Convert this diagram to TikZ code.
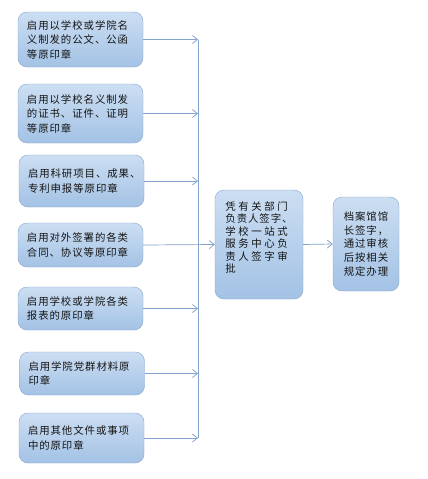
\documentclass[tikz,border=0pt]{standalone}
\usepackage{fontspec}
\newfontfamily\cjk[LetterSpace=9]{Noto Sans CJK SC}
\newfontfamily\cjkmid[LetterSpace=25]{Noto Sans CJK SC}
\usetikzlibrary{arrows.meta}
\definecolor{boxtop}{HTML}{CCDEF2}
\definecolor{boxbot}{HTML}{A3C2E5}
\definecolor{boxline}{HTML}{86A6CF}
\definecolor{flow}{HTML}{82A3CC}
\definecolor{ink}{HTML}{141414}
\tikzset{
  stepbox/.style={rectangle, rounded corners=9pt, draw=boxline, thin,
    top color=boxtop, bottom color=boxbot, text=ink, align=left,
    font=\cjk\fontsize{10.4}{14.5}\selectfont},
  leftbox/.style={stepbox, text width=107pt, inner xsep=9pt},
  flowline/.style={flow, line width=0.7pt},
  flowarrow/.style={flowline, -{Straight Barb[length=5pt,width=8pt]}}
}
\begin{document}
\begin{tikzpicture}[x=1pt,y=-1pt]
        \useasboundingbox[fill=white] (0,0) rectangle (428,479);

        % Left column: the kinds of seal use
        \node[leftbox, minimum height=55pt] (seal1) at (80.5,39.5) {启用以学校或学院名\\义制发的公文、公函\\等原印章};
        \node[leftbox, minimum height=59pt] (seal2) at (80.5,113.5) {启用以学校名义制发\\的证书、证件、证明\\等原印章};
        \node[leftbox, minimum height=52pt] (seal3) at (81.5,181) {启用科研项目、成果、\\专利申报等原印章};
        \node[leftbox, minimum height=44pt] (seal4) at (80.5,245) {启用对外签署的各类\\合同、协议等原印章};
        \node[leftbox, minimum height=43pt] (seal5) at (80.5,308.5) {启用学校或学院各类\\报表的原印章};
        \node[leftbox, minimum height=43pt] (seal6) at (82,373.5) {启用学院党群材料原\\印章};
        \node[leftbox, minimum height=50pt] (seal7) at (81.5,438) {启用其他文件或事项\\中的原印章};

        % Middle: signatures of the departments
        \node[stepbox, minimum width=88pt, minimum height=109pt] (sign) at (259,244.5) {};
        \node[align=left, text=ink, inner sep=0pt, font=\cjkmid\fontsize{10.4}{12.5}\selectfont]
              (signtext) at ([yshift=7pt]sign.center)
              {凭有关部门\\{\cjk 负责人签字、}\\学校一站式\\服务中心负\\责人签字审\\批};

        % Right: archive office
        \node[stepbox, minimum width=66pt, minimum height=94pt, inner xsep=0pt,
              font=\cjk\fontsize{10.4}{13.7}\selectfont] (archive) at (366,244)
              {档案馆馆\\长签字，\\通过审核\\后按相关\\规定办理};

        % Collecting line
        \coordinate (bus) at (198,0);
        \draw[flowline] (seal1.east -| bus) -- (seal7.east -| bus);

        % Arrows into the collecting line
        \draw[flowarrow] (seal1.east) -- (seal1.east -| bus);
        \draw[flowarrow] (seal2.east) -- (seal2.east -| bus);
        \draw[flowarrow] (seal3.east) -- (seal3.east -| bus);
        \draw[flowarrow] (seal5.east) -- (seal5.east -| bus);
        \draw[flowarrow] (seal6.east) -- (seal6.east -| bus);
        \draw[flowarrow] (seal7.east) -- (seal7.east -| bus);

        % Straight on to the signatures, then to the archive
        \draw[flowarrow] (seal4.east) -- (sign.west);
        \draw[flowarrow] (sign.east) -- (archive.west);
      \end{tikzpicture}
\end{document}
